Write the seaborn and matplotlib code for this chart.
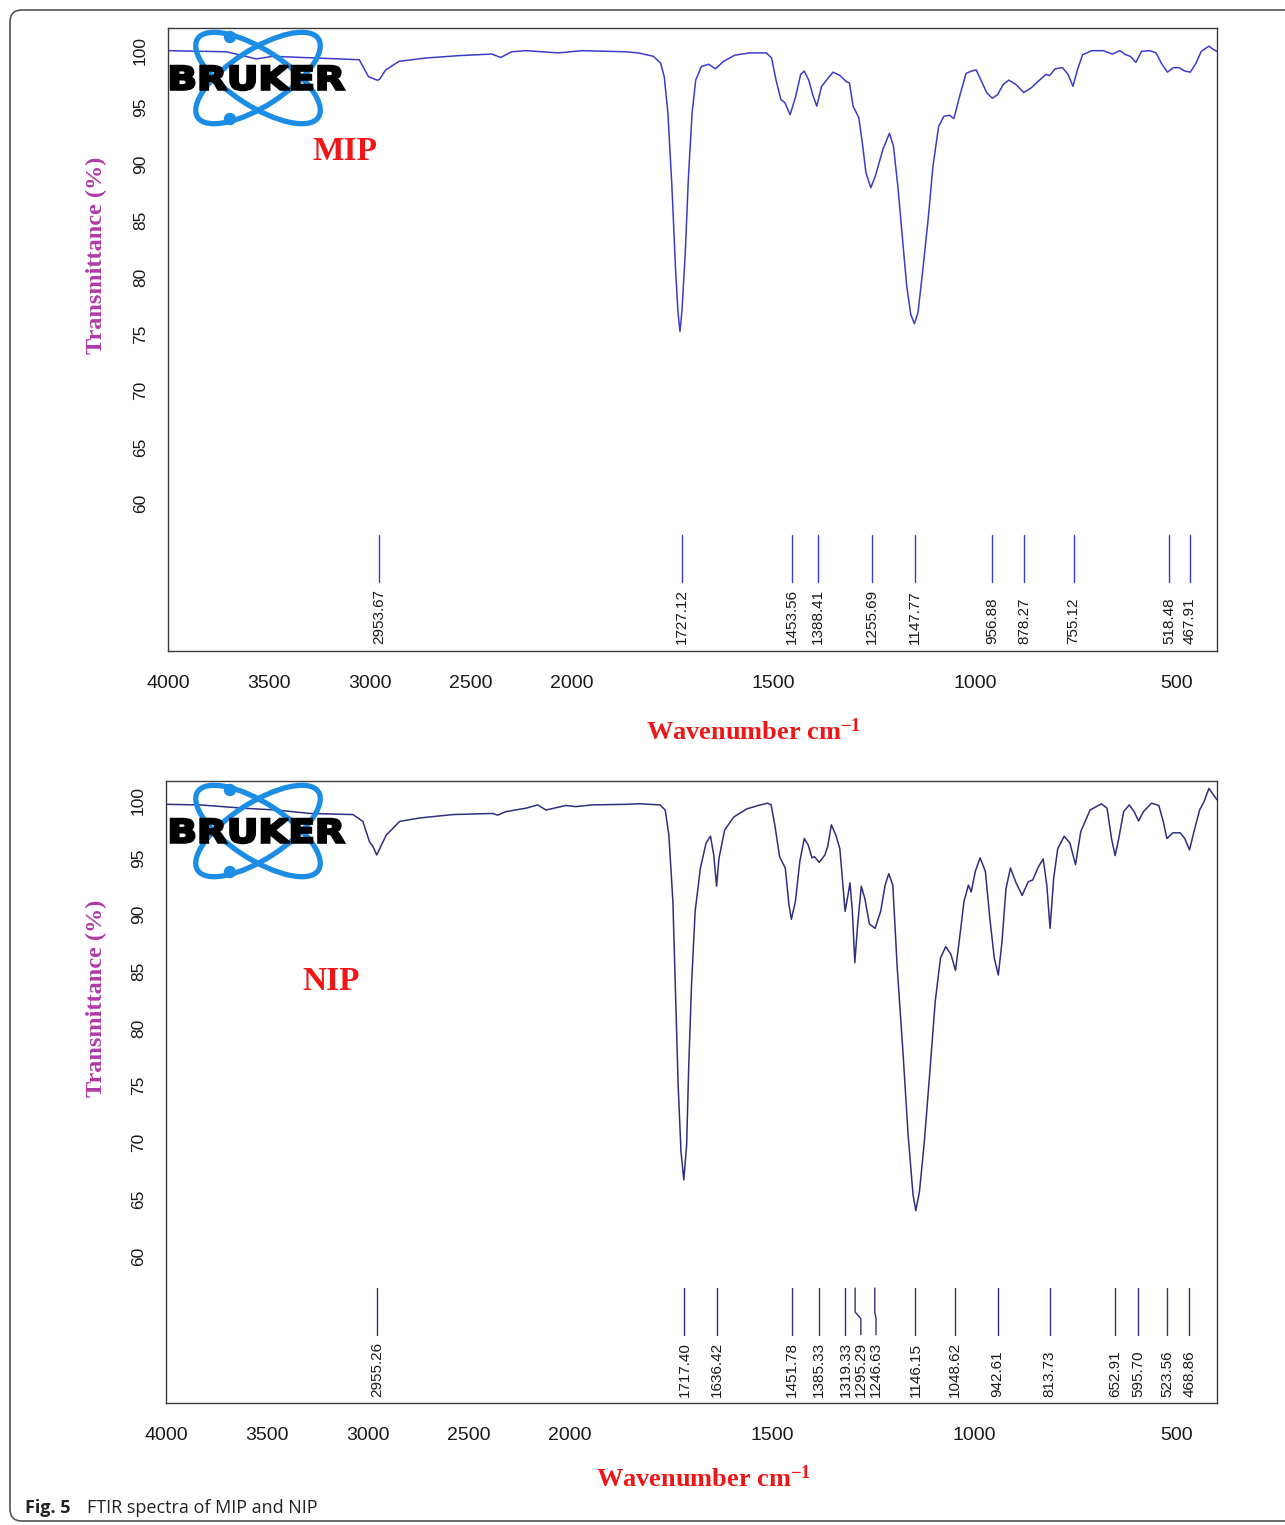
"""FTIR spectra of MIP and NIP (Bruker style, expanded scale below 2000 cm-1)."""

import numpy as np
import pandas as pd
import matplotlib
matplotlib.use("Agg")
import matplotlib.pyplot as plt
import matplotlib.transforms as mtransforms
import seaborn as sns
from matplotlib.patches import Ellipse, Circle, FancyBboxPatch, PathPatch
from matplotlib.textpath import TextPath
from matplotlib.font_manager import FontProperties


# ---- values ----
mip_wavenumber = [
    4000, 3710, 3562, 3481, 3052, 3006, 2985, 2961, 2950, 2921,
    2854, 2722, 2558, 2395, 2351, 2296, 2227, 2064, 1975, 1866,
    1834, 1797, 1779, 1770, 1761, 1751, 1742, 1736, 1731, 1726,
    1718, 1710, 1701, 1692, 1678, 1660, 1643, 1623, 1595, 1559,
    1517, 1504, 1493, 1481, 1471, 1458, 1444, 1432, 1423, 1412,
    1401, 1392, 1380, 1370, 1352, 1334, 1320, 1311, 1302, 1288,
    1279, 1270, 1258, 1247, 1228, 1212, 1202, 1191, 1180, 1169,
    1159, 1150, 1141, 1129, 1116, 1104, 1090, 1077, 1063, 1052,
    1040, 1022, 1008, 997, 985, 971, 957, 944, 930, 916,
    898, 879, 861, 843, 824, 815, 801, 783, 769, 757,
    746, 733, 710, 682, 659, 641, 627, 615, 601, 587,
    567, 551, 538, 523, 508, 494, 480, 466, 452, 439,
    420, 411, 400,
]
mip_transmittance = [
    100.0, 99.9, 99.27, 99.5, 99.2, 97.7, 97.55, 97.38, 97.5, 98.3,
    99.06, 99.35, 99.56, 99.7, 99.4, 99.9, 100.0, 99.8, 100.0, 99.9,
    99.8, 99.5, 98.9, 97.7, 94.5, 88.0, 80.7, 76.9, 75.2, 77.1,
    82.1, 88.9, 94.5, 97.4, 98.6, 98.8, 98.4, 99.06, 99.6, 99.8,
    99.8, 99.35, 97.4, 95.7, 95.4, 94.35, 96.0, 97.9, 98.2, 97.4,
    96.0, 95.1, 96.85, 97.3, 98.1, 97.8, 97.3, 97.15, 95.1, 94.1,
    91.85, 89.2, 87.9, 88.9, 91.3, 92.7, 91.6, 88.0, 83.6, 79.2,
    76.7, 75.9, 76.9, 80.7, 85.1, 89.8, 93.3, 94.2, 94.3, 94.0,
    95.7, 98.0, 98.2, 98.3, 97.4, 96.3, 95.8, 96.1, 97.0, 97.4,
    97.0, 96.3, 96.7, 97.3, 97.9, 97.8, 98.4, 98.5, 97.9, 96.85,
    98.3, 99.65, 100.0, 100.0, 99.7, 100.0, 99.65, 99.5, 98.97, 99.94,
    100.0, 99.8, 98.9, 98.1, 98.5, 98.5, 98.2, 98.1, 98.9, 99.94,
    100.4, 100.15, 99.94,
]

nip_wavenumber = [
    4000, 3832, 3618, 3453, 3289, 3075, 3026, 2993, 2976, 2957,
    2935, 2910, 2844, 2746, 2581, 2384, 2359, 2318, 2219, 2161,
    2120, 2021, 1986, 1945, 1862, 1829, 1778, 1765, 1756, 1746,
    1739, 1733, 1726, 1719, 1712, 1707, 1700, 1691, 1678, 1664,
    1653, 1645, 1638, 1632, 1618, 1595, 1563, 1535, 1512, 1503,
    1494, 1482, 1468, 1459, 1453, 1443, 1432, 1421, 1411, 1402,
    1396, 1384, 1370, 1363, 1354, 1343, 1333, 1326, 1320, 1313,
    1308, 1302, 1296, 1289, 1280, 1271, 1260, 1246, 1232, 1221,
    1212, 1202, 1191, 1177, 1164, 1152, 1145, 1136, 1124, 1111,
    1097, 1084, 1071, 1058, 1047, 1038, 1026, 1015, 1008, 998,
    986, 973, 962, 951, 941, 932, 922, 911, 897, 882,
    867, 856, 842, 830, 821, 813, 804, 794, 778, 764,
    750, 737, 714, 686, 672, 661, 652, 643, 631, 617,
    605, 594, 582, 562, 544, 533, 524, 509, 491, 480,
    468, 457, 443, 432, 420, 408, 400,
]
nip_transmittance = [
    99.7, 99.65, 99.36, 99.2, 98.9, 98.8, 98.2, 96.4, 95.98, 95.25,
    96.1, 97.0, 98.2, 98.5, 98.8, 98.9, 98.75, 99.06, 99.36, 99.65,
    99.2, 99.6, 99.5, 99.65, 99.7, 99.75, 99.65, 99.2, 97.0, 91.15,
    82.4, 75.0, 69.2, 66.7, 69.8, 76.5, 83.8, 90.3, 94.1, 96.3,
    96.9, 95.25, 92.5, 94.96, 97.45, 98.6, 99.3, 99.6, 99.8, 99.65,
    97.9, 95.1, 94.1, 90.9, 89.6, 91.15, 94.7, 96.7, 96.1, 95.0,
    95.1, 94.6, 95.25, 96.0, 97.9, 97.0, 95.8, 92.9, 90.3, 91.7,
    92.8, 90.3, 85.8, 89.1, 92.5, 91.4, 89.2, 88.8, 90.3, 92.6,
    93.6, 92.6, 85.3, 78.0, 70.6, 65.4, 64.0, 65.7, 70.05, 75.9,
    82.4, 86.2, 87.2, 86.5, 85.1, 87.6, 91.15, 92.6, 92.0, 93.8,
    95.0, 93.8, 89.7, 86.2, 84.7, 87.6, 92.3, 94.1, 92.8, 91.7,
    92.9, 93.05, 94.2, 94.9, 92.6, 88.8, 93.2, 95.8, 96.9, 96.3,
    94.4, 97.3, 99.2, 99.74, 99.36, 96.7, 95.2, 96.7, 99.06, 99.65,
    99.06, 98.24, 99.06, 99.8, 99.6, 98.2, 96.7, 97.2, 97.2, 96.7,
    95.7, 97.3, 99.2, 99.94, 101.1, 100.5, 100.1,
]

mip_peaks = [2953.67, 1727.12, 1453.56, 1388.41, 1255.69, 1147.77,
             956.88, 878.27, 755.12, 518.48, 467.91]
nip_peaks = [2955.26, 1717.40, 1636.42, 1451.78, 1385.33, 1319.33,
             1295.29, 1246.63, 1146.15, 1048.62, 942.61, 813.73,
             652.91, 595.70, 523.56, 468.86]
# crowded labels that the software pushed aside (label position in cm-1)
nip_label_at = {1295.29: 1281.0, 1246.63: 1243.5}

x_ticks = [4000, 3500, 3000, 2500, 2000, 1500, 1000, 500]
y_ticks = [60, 65, 70, 75, 80, 85, 90, 95, 100]

W, H = 1285, 1525
MIP_COLOR = "#3c3cc8"
NIP_COLOR = "#2f2f7e"
RED = "#ee1616"
PURPLE = "#b03aa6"
LOGO_BLUE = "#1b8de4"


def _fwd(w):
    # below 2000 cm-1 the Bruker plot uses a twice-expanded scale
    w = np.asarray(w, dtype=float)
    return np.where(w >= 2000, w, 2 * w - 2000)


def _inv(u):
    u = np.asarray(u, dtype=float)
    return np.where(u >= 2000, u, (u + 2000) / 2)


def draw_panel(ax, wn, tr, peaks, color, ylim, label_at=None):
    label_at = label_at or {}
    df = pd.DataFrame({"wavenumber": wn, "transmittance": tr})
    sns.lineplot(data=df, x="wavenumber", y="transmittance", ax=ax,
                 color=color, linewidth=1.1, sort=False, estimator=None)
    ax.set_xscale("function", functions=(_fwd, _inv))
    ax.set_xlim(4000, 400)
    ax.set_ylim(*ylim)
    ax.set_xticks(x_ticks)
    ax.set_yticks(y_ticks)
    ax.set_xticklabels([str(t) for t in x_ticks])
    ax.set_yticklabels([str(t) for t in y_ticks], rotation=90, va="center")
    ax.set_xlabel("")
    ax.set_ylabel("")
    ax.tick_params(axis="both", direction="out", length=7.5, width=1,
                   color="#333333", labelcolor="#1a1a1a")
    ax.tick_params(axis="x", labelsize=14, pad=10)
    ax.tick_params(axis="y", labelsize=12.5, pad=7)
    for sp in ax.spines.values():
        sp.set_visible(True)
        sp.set_color("#3a3a3a")
        sp.set_linewidth(1.0)

    # peak picking marks
    for p in peaks:
        lx = label_at.get(p, p)
        if lx == p:
            ax.plot([p, p], [53.1, 57.2], color=color, lw=1)
        else:
            ax.plot([p, p, lx, lx], [57.2, 55.1, 54.5, 53.1], color=color, lw=1)
        ax.text(lx, 47.6, f"{p:.2f}", rotation=90, ha="center", va="bottom",
                fontsize=11, family="Liberation Sans", color="#1a1a1a")


def draw_logo(ov, cx, cy):
    for ang in (33, -33):
        ov.add_patch(Ellipse((cx, cy), 144, 56, angle=ang, fill=False,
                             ec=LOGO_BLUE, lw=3.8))
    for dy in (-41, 41):
        ov.add_patch(Circle((cx - 28, cy + dy), 5.5, color=LOGO_BLUE))
    tp = TextPath((0, 0), "BRUKER", size=1,
                  prop=FontProperties(family="DejaVu Sans", weight="bold"))
    bb = tp.get_extents()
    tf = (mtransforms.Affine2D().translate(-bb.x0, -bb.y0)
          .scale(173 / bb.width, -24 / bb.height)
          .translate(cx - 87, cy + 12))
    ov.add_patch(PathPatch(tp.transformed(tf), fc="black", ec="black", lw=1.8))


sns.set_theme(style="white")
plt.rcParams["font.family"] = ["Liberation Sans", "DejaVu Sans"]
plt.rcParams["mathtext.default"] = "regular"

fig = plt.figure(figsize=(W / 100, H / 100), dpi=100)
fig.patch.set_facecolor("white")

ax_top = fig.add_axes([168 / W, 1 - 651 / H, (1217 - 168) / W, (651 - 28) / H])
ax_bot = fig.add_axes([166 / W, 1 - 1403 / H, (1217 - 166) / W, (1403 - 781) / H])

draw_panel(ax_top, mip_wavenumber, mip_transmittance, mip_peaks, MIP_COLOR,
           (47.0, 102.0))
draw_panel(ax_bot, nip_wavenumber, nip_transmittance, nip_peaks, NIP_COLOR,
           (47.1, 101.75), nip_label_at)

serif_bold = dict(family="Liberation Serif", fontweight="bold")
ax_top.text(0.169, 0.801, "MIP", transform=ax_top.transAxes, ha="center",
            va="center", fontsize=24, color=RED, **serif_bold)
ax_bot.text(0.157, 0.678, "NIP", transform=ax_bot.transAxes, ha="center",
            va="center", fontsize=24, color=RED, **serif_bold)

# overlay in pixel coordinates for logo, labels, caption and frame
ov = fig.add_axes([0, 0, 1, 1], zorder=5)
ov.set_xlim(0, W)
ov.set_ylim(H, 0)
ov.axis("off")
ov.patch.set_alpha(0)

ov.add_patch(FancyBboxPatch((10, 10), 1320, 1511,
                            boxstyle="round,pad=0,rounding_size=12",
                            fill=False, ec="#555555", lw=1.2))

for dy in (0, 753):
    draw_logo(ov, 258, 78 + dy)

for cy in (255, 998):
    ov.text(96, cy, "Transmittance (%)", rotation=90, ha="center", va="center",
            fontsize=17.5, color=PURPLE, **serif_bold)

ov.text(754, 740, "Wavenumber cm$^{-1}$", ha="center", va="baseline",
        fontsize=19, color=RED, **serif_bold)
ov.text(704, 1487, "Wavenumber cm$^{-1}$", ha="center", va="baseline",
        fontsize=19, color=RED, **serif_bold)

ov.text(25, 1513, "Fig. 5", ha="left", va="baseline", fontsize=13,
        family="Open Sans", fontweight="bold", color="#222222")
ov.text(87, 1513, "FTIR spectra of MIP and NIP", ha="left", va="baseline",
        fontsize=13, family="Open Sans", color="#222222")

fig.savefig("out.png", dpi=100)
